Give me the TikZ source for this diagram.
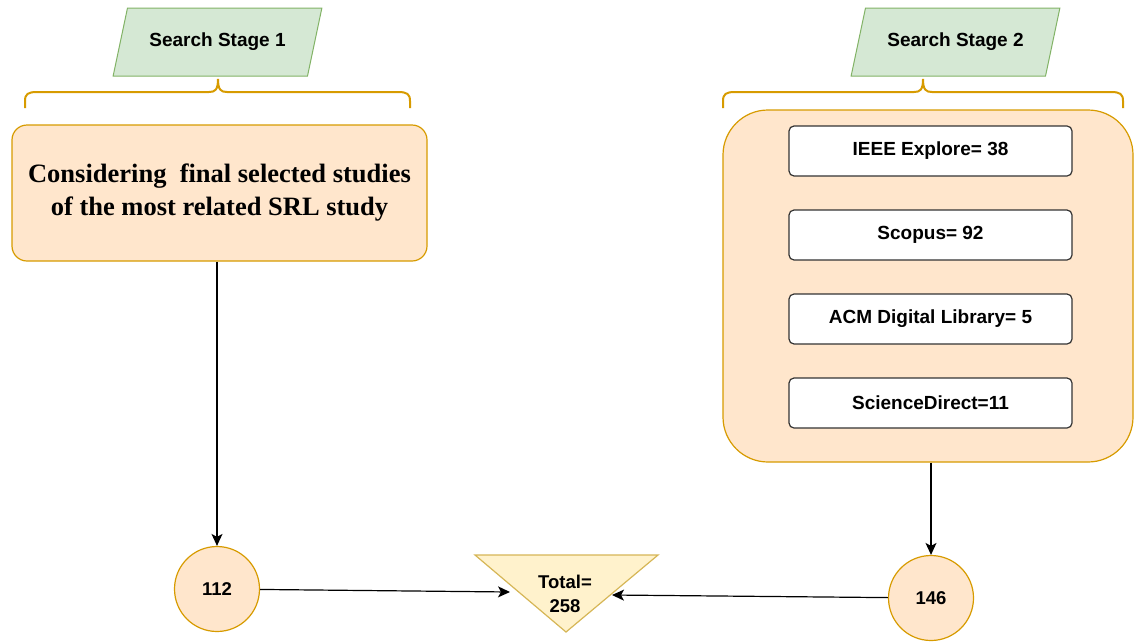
\documentclass[tikz,border=0pt]{standalone}
\usepackage{fontspec}
\setmainfont{Liberation Serif}
\setsansfont{Liberation Sans}
\usetikzlibrary{shapes.geometric,arrows.meta,positioning}

\definecolor{stagefill}{HTML}{D5E8D4}
\definecolor{stageline}{HTML}{82B366}
\definecolor{peachfill}{HTML}{FFE6CC}
\definecolor{peachline}{HTML}{D79B00}
\definecolor{totalfill}{HTML}{FFF2CC}
\definecolor{totalline}{HTML}{D6B656}

\tikzset{
    stage/.style={trapezium, trapezium left angle=65, trapezium right angle=115,
        trapezium stretches=true, minimum width=209pt, minimum height=68pt,
        fill=stagefill, draw=stageline, line width=1pt,
        font=\sffamily\bfseries\fontsize{19}{22}\selectfont},
    peachbox/.style={rectangle, fill=peachfill, draw=peachline, line width=1.2pt},
    dbbox/.style={rectangle, rounded corners=5pt, fill=white, draw=black!80,
        line width=1.2pt, minimum width=283pt, minimum height=50pt,
        font=\sffamily\bfseries\fontsize{19}{22}\selectfont},
    countnode/.style={circle, fill=peachfill, draw=peachline, line width=1.2pt,
        minimum size=85pt, inner sep=0pt,
        font=\sffamily\bfseries\fontsize{18.5}{22}\selectfont},
    bracket/.style={draw=peachline, line width=2pt},
    flow/.style={-{Stealth[length=12pt, width=11pt, inset=3pt]}, line width=1.2pt}
}

% curly bracket under a stage: left x, right x, tip x
\newcommand{\stagebrace}[3]{%
    \draw[bracket] (#1,108) -- (#1,101) .. controls (#1,94) and ({#1+3},92) .. ({#1+12},92)
        -- ({#3-9},92) .. controls ({#3-3},92) and (#3,90) .. (#3,79)
        .. controls (#3,90) and ({#3+3},92) .. ({#3+9},92)
        -- ({#2-12},92) .. controls ({#2-3},92) and (#2,94) .. (#2,101) -- (#2,108);}

\begin{document}
\begin{tikzpicture}[x=1pt, y=-1pt]
    \useasboundingbox (0,0) rectangle (1134,643);

    % stages
    \node[stage] (stage1) at (217.5,42) {Search Stage 1};
    \node[stage] (stage2) at (955.5,42) {Search Stage 2};
    \stagebrace{25}{410}{218}
    \stagebrace{723}{1123}{923}

    % stage 1 box
    \node[peachbox, rounded corners=15pt, minimum width=415pt, minimum height=136pt,
        align=center, font=\rmfamily\bfseries\fontsize{26.5}{33}\selectfont]
        (related) at (219.5,193) {Considering~ final selected studies\\of the most related SRL study};

    % stage 2 box with the databases
    \node[peachbox, rounded corners=45pt, minimum width=410pt, minimum height=352pt] (databases) at (928,286) {};
    \foreach \name/\txt [count=\i] in {ieee/IEEE Explore= 38, scopus/Scopus= 92,
        acm/ACM Digital Library= 5, sciencedirect/ScienceDirect=11}
        \node[dbbox] (\name) at (930.5,{151+84*(\i-1)}) {\txt};

    % counts
    \node[countnode] (count1) at (217,589) {112};
    \node[countnode] (count2) at (931,598) {146};

    % total
    \draw[fill=totalfill, draw=totalline, line width=1.2pt] (475,555) -- (658,555) -- (566,632) -- cycle;
    \node[align=center, inner sep=0pt, font=\sffamily\bfseries\fontsize{18.5}{24}\selectfont]
        (total) at (565,594) {Total=\\258};
    \coordinate (totalL) at (510,592);
    \coordinate (totalR) at (612,595);

    \draw[flow] (related.south -| count1.north) -- (count1);
    \draw[flow] (databases.south -| count2.north) -- (count2);
    \draw[flow] (count1) -- (totalL);
    \draw[flow] (count2) -- (totalR);
\end{tikzpicture}
\end{document}
